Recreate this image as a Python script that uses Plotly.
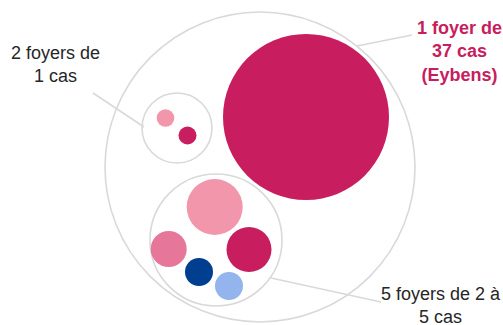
import plotly.graph_objects as go

# ---- data ----
foyers = ["Eybens", "Foyer A", "Foyer B", "Foyer C", "Foyer D", "Foyer E", "Foyer F", "Foyer G"]
cas = [37, 1, 1, 5, 3, 4, 2, 2]
groupes = ["37 cas", "1 cas", "1 cas", "2 à 5 cas", "2 à 5 cas", "2 à 5 cas", "2 à 5 cas", "2 à 5 cas"]
label_big = "1 foyer de<br>37 cas<br>(Eybens)"
label_small = "2 foyers de<br>1 cas"
label_mid = "5 foyers de 2 à<br>5 cas"

# ---- layout of the packing (pixel-like coordinates) ----
node_pos = [  # (cx, cy, r)
    (306, 117, 83),
    (165.5, 118, 8.8),
    (187.5, 135.5, 9),
    (214.7, 207, 28),
    (168.7, 249, 18),
    (249, 249.5, 22.5),
    (199, 272, 14),
    (229, 286, 14),
]
node_colors = ["#C81D5E", "#F296AB", "#C81D5E", "#F296AB", "#E7779A", "#C81D5E", "#003E8F", "#93B4EC"]
outer = (260, 167, 155)
group_small = (177, 128, 35)
group_mid = (216, 240, 66)
outline = "#D9D9D9"

shapes = []
def circ(c, fill=None, line=None, width=1.6):
    cx, cy, r = c
    d = dict(type="circle", xref="x", yref="y", x0=cx - r, x1=cx + r, y0=cy - r, y1=cy + r)
    if fill:
        d["fillcolor"] = fill
        d["line"] = dict(width=0)
    else:
        d["line"] = dict(color=line, width=width)
    return d

shapes.append(circ(outer, line=outline))
shapes.append(circ(group_small, line=outline))
shapes.append(circ(group_mid, line=outline))
for p, c in zip(node_pos, node_colors):
    shapes.append(circ(p, fill=c))

leaders = [((357, 46), (412, 35)), ((93, 93), (144, 127)), ((271, 278), (381, 302))]
for (a, b) in leaders:
    shapes.append(dict(type="line", xref="x", yref="y", x0=a[0], y0=a[1], x1=b[0], y1=b[1],
                       line=dict(color=outline, width=1.6)))

fig = go.Figure()
fig.add_trace(go.Scatter(
    x=[p[0] for p in node_pos], y=[p[1] for p in node_pos], mode="markers",
    marker=dict(size=1, opacity=0),
    text=[f"{f} : {c} cas" for f, c in zip(foyers, cas)], hoverinfo="text", showlegend=False))

font = "Liberation Sans, Arial, sans-serif"
annotations = [
    dict(x=459, y=51, text=f"<b>{label_big}</b>", font=dict(size=18, color="#C81D5E", family=font)),
    dict(x=55, y=64.5, text=label_small, font=dict(size=18, color="#262626", family=font)),
    dict(x=441, y=305, text=label_mid, font=dict(size=18, color="#262626", family=font)),
]
for a in annotations:
    a.update(xref="x", yref="y", showarrow=False, xanchor="center", yanchor="middle", align="center")

fig.update_layout(
    width=503, height=325, margin=dict(l=0, r=0, t=0, b=0),
    paper_bgcolor="white", plot_bgcolor="white",
    xaxis=dict(range=[0, 503], visible=False, fixedrange=True),
    yaxis=dict(range=[325, 0], visible=False, fixedrange=True),
    shapes=shapes, annotations=annotations, showlegend=False,
)
fig.write_html("out.html")
